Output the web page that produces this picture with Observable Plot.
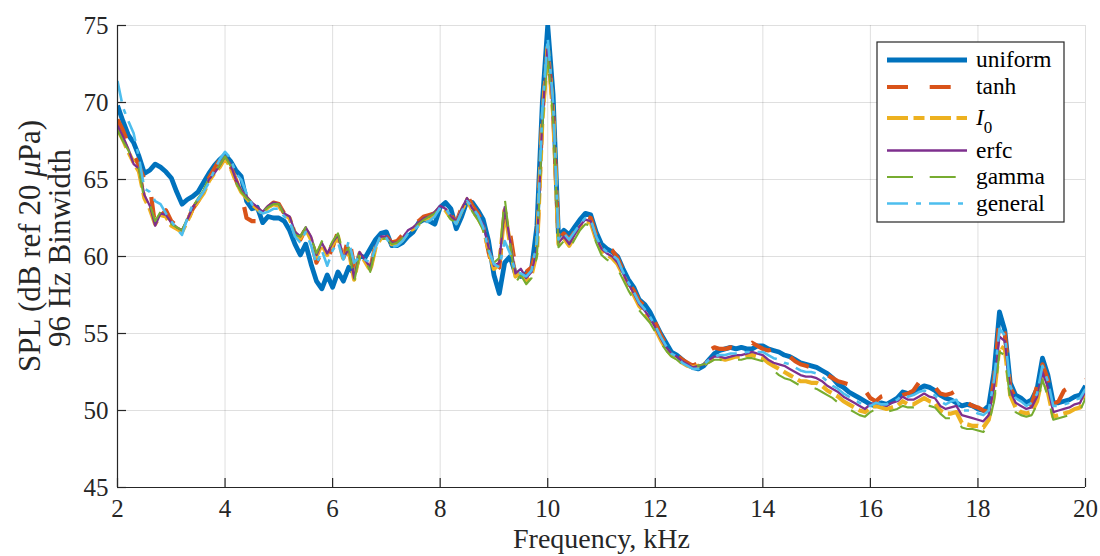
<!DOCTYPE html>
<html>
<head>
<meta charset="utf-8">
<script src="https://cdn.jsdelivr.net/npm/d3@7"></script>
<script src="https://cdn.jsdelivr.net/npm/@observablehq/plot@0.6"></script>
<style>
  html, body { margin: 0; padding: 0; background: #fff; }
  #chart { width: 1100px; height: 556px; }
</style>
</head>
<body>
<div id="chart"></div>
<script>
// Frequency bins (kHz)
const freq = [2.0,2.1,2.2,2.3,2.4,2.5,2.6,2.7,2.8,2.9,3.0,3.1,3.2,3.3,3.4,3.5,3.6,3.7,3.8,3.9,4.0,4.1,4.2,4.3,4.4,4.5,4.6,4.7,4.8,4.9,5.0,5.1,5.2,5.3,5.4,5.5,5.6,5.7,5.8,5.9,6.0,6.1,6.2,6.3,6.4,6.5,6.6,6.7,6.8,6.9,7.0,7.1,7.2,7.3,7.4,7.5,7.6,7.7,7.8,7.9,8.0,8.1,8.2,8.3,8.4,8.5,8.6,8.7,8.8,8.9,9.0,9.1,9.2,9.3,9.4,9.5,9.6,9.7,9.8,9.9,10.0,10.1,10.2,10.3,10.4,10.5,10.6,10.7,10.8,10.9,11.0,11.1,11.2,11.3,11.4,11.5,11.6,11.7,11.8,11.9,12.0,12.1,12.2,12.3,12.4,12.5,12.6,12.7,12.8,12.9,13.0,13.1,13.2,13.3,13.4,13.5,13.6,13.7,13.8,13.9,14.0,14.1,14.2,14.3,14.4,14.5,14.6,14.7,14.8,14.9,15.0,15.1,15.2,15.3,15.4,15.5,15.6,15.7,15.8,15.9,16.0,16.1,16.2,16.3,16.4,16.5,16.6,16.7,16.8,16.9,17.0,17.1,17.2,17.3,17.4,17.5,17.6,17.7,17.8,17.9,18.0,18.1,18.2,18.3,18.4,18.5,18.6,18.7,18.8,18.9,19.0,19.1,19.2,19.3,19.4,19.5,19.6,19.7,19.8,19.9,20.0];

const uniform = [69.8,68.8,67.9,67.4,66.5,65.4,65.6,66.0,65.8,65.5,65.1,64.2,63.4,63.7,63.9,64.2,64.8,65.4,65.9,66.3,66.6,66.2,65.6,65.2,63.6,63.1,63.2,62.2,62.6,62.5,62.5,62.3,61.7,60.8,60.1,60.8,59.5,58.4,57.9,58.8,58.0,59.0,58.4,59.3,58.9,60.1,59.9,60.5,61.1,61.5,61.6,60.7,60.7,60.9,61.3,61.6,62.2,62.4,62.3,62.1,63.2,63.5,63.1,61.8,62.6,63.6,63.5,63.0,62.4,61.0,58.8,57.6,59.6,60.0,58.9,58.7,58.9,59.2,62.0,70.0,75.0,70.5,61.3,61.7,61.4,61.9,62.4,62.8,62.7,61.6,60.8,60.5,60.3,60.0,59.2,58.5,58.0,57.2,56.9,56.4,55.7,55.0,54.4,53.8,53.6,53.3,53.0,52.8,52.7,52.9,53.3,53.7,53.9,54.0,54.1,54.0,54.1,54.0,54.0,54.2,54.2,54.0,53.9,53.8,53.6,53.5,53.3,53.1,53.0,52.9,52.8,52.6,52.4,52.1,51.7,51.5,51.2,51.0,50.8,50.6,50.4,50.3,50.5,50.4,50.6,50.8,51.2,51.1,51.2,51.4,51.6,51.5,51.3,51.0,50.8,50.7,50.5,50.3,50.4,50.3,50.1,50.0,50.3,52.5,56.4,55.2,51.8,51.0,50.8,50.5,50.7,51.4,53.4,52.3,50.5,50.5,50.6,50.7,50.9,51.0,51.6];

const tanh = [68.9,68.2,67.3,66.6,65.9,65.0,64.6,62.0,62.6,63.0,62.3,62.0,61.9,62.3,63.1,63.6,64.2,65.1,65.7,66.3,66.6,65.9,65.0,64.1,62.5,62.3,62.3,62.6,63.2,63.5,63.4,62.8,62.5,61.5,61.1,61.8,61.0,59.6,60.3,59.8,60.6,61.6,59.9,61.3,59.4,60.0,59.6,59.2,60.8,61.4,61.3,60.9,61.0,61.4,61.9,62.1,62.3,62.6,62.7,62.8,63.2,63.1,62.7,62.2,63.2,64.0,63.3,62.8,62.2,60.3,58.9,59.3,63.0,61.5,59.3,59.2,59.0,59.3,60.6,69.2,73.6,69.6,61.1,61.5,61.1,61.6,62.2,62.6,62.5,61.4,60.8,60.6,60.4,59.9,59.1,58.3,57.8,57.1,56.8,56.4,55.7,54.9,54.3,53.8,53.6,53.3,53.1,52.9,53.1,53.6,53.9,54.1,54.0,54.0,54.1,54.0,54.0,54.2,54.4,54.2,54.0,53.9,54.0,53.9,53.7,53.5,53.2,53.0,52.9,52.8,52.6,52.5,52.3,52.1,51.9,51.8,51.7,51.6,51.4,51.3,50.8,50.6,50.9,51.0,50.9,50.8,51.0,51.1,51.3,51.8,52.0,51.9,51.5,51.1,51.0,51.1,51.3,51.1,50.5,50.3,50.2,50.0,49.9,52.0,55.9,55.0,51.5,50.8,50.5,50.2,50.4,51.6,53.0,52.0,50.4,50.6,51.3,51.5,51.6,51.8,52.0];

const i0 = [68.3,67.6,66.8,66.1,65.5,63.8,63.1,62.1,62.7,62.6,62.0,61.8,61.6,62.3,63.1,63.6,64.1,64.9,65.4,65.8,66.4,65.8,64.9,64.2,63.8,63.4,63.1,62.8,63.2,63.4,63.3,62.7,62.5,61.5,61.2,61.8,61.1,60.0,60.8,60.1,60.8,61.3,59.8,60.4,58.5,60.2,59.7,59.1,60.6,61.2,61.2,60.8,60.8,61.1,61.6,61.8,62.1,62.4,62.5,62.8,63.2,63.0,62.5,62.2,63.0,63.7,63.0,62.5,61.9,60.4,59.2,59.5,63.0,60.8,58.7,59.0,58.4,58.8,60.3,68.8,73.6,69.3,60.8,61.2,60.7,61.3,61.9,62.3,62.2,61.1,60.4,60.1,59.9,59.5,58.8,58.1,57.5,56.8,56.4,55.9,55.3,54.6,54.0,53.6,53.4,53.1,52.9,52.8,52.9,53.0,53.2,53.4,53.4,53.3,53.4,53.5,53.5,53.6,53.6,53.5,53.4,53.1,52.9,52.7,52.5,52.3,52.1,51.9,51.9,51.8,51.8,51.6,51.3,51.1,50.9,50.6,50.4,50.2,50.0,49.9,50.2,50.3,50.2,50.1,50.2,50.3,50.6,50.4,50.4,50.6,50.8,50.6,50.5,50.0,49.8,49.8,49.9,49.2,49.1,49.0,49.0,48.9,49.4,51.0,54.2,54.0,51.0,50.2,49.9,49.8,49.9,50.6,52.2,51.2,49.6,49.7,49.8,49.9,50.1,50.2,51.0];

const erfc = [68.5,67.8,67.0,66.0,65.7,64.0,63.3,62.0,62.8,62.7,62.2,61.9,61.7,62.4,63.2,63.7,64.2,65.0,65.4,65.9,66.5,66.0,65.0,64.3,63.9,63.5,63.2,62.9,63.3,63.5,63.4,62.8,62.6,61.6,61.3,61.9,61.3,60.1,60.9,60.2,60.9,61.4,59.9,60.5,58.6,60.3,59.8,59.3,60.7,61.3,61.3,60.9,60.9,61.2,61.7,61.9,62.2,62.5,62.6,62.9,63.3,63.1,62.6,62.3,63.1,63.8,63.1,62.6,62.1,60.6,59.4,59.6,63.2,61.0,58.9,59.2,58.6,59.0,60.5,69.0,73.8,69.5,60.9,61.3,60.8,61.4,62.0,62.4,62.3,61.2,60.5,60.2,60.0,59.6,58.9,58.2,57.6,56.9,56.5,56.0,55.4,54.7,54.1,53.7,53.5,53.2,53.0,52.8,52.9,53.0,53.3,53.5,53.5,53.4,53.5,53.6,53.6,53.7,53.8,53.7,53.6,53.3,53.1,53.0,52.9,52.7,52.5,52.3,52.2,52.2,52.1,51.9,51.6,51.4,51.2,50.9,50.7,50.5,50.3,50.1,50.4,50.5,50.4,50.3,50.5,50.6,50.9,50.7,50.7,50.9,51.1,50.9,50.8,50.3,50.1,50.2,50.3,49.7,49.6,49.5,49.4,49.3,49.7,51.5,54.8,54.5,51.3,50.5,50.3,50.1,50.2,50.9,52.5,51.5,49.9,50.0,50.1,50.2,50.4,50.5,51.3];

const gamma = [68.2,67.5,66.9,66.2,65.7,63.6,63.4,62.3,62.9,62.8,62.1,61.9,61.7,62.5,63.2,63.8,64.3,65.1,65.5,65.9,66.5,65.9,64.8,64.2,63.8,63.5,63.2,62.9,63.2,63.4,63.4,62.7,62.5,61.4,61.3,61.9,61.2,60.2,61.0,60.3,61.0,61.5,60.1,60.6,58.3,60.2,59.9,59.0,60.6,61.1,61.2,60.8,60.9,61.2,61.6,61.8,62.1,62.4,62.6,62.8,63.2,62.9,62.4,62.2,62.9,63.5,62.9,62.4,61.7,60.3,59.6,59.9,63.8,60.9,58.3,58.8,58.2,58.6,60.0,68.5,73.2,69.0,60.6,61.0,60.5,61.1,61.7,62.1,62.0,60.9,60.1,59.8,59.6,59.2,58.5,57.8,57.2,56.5,56.1,55.7,55.1,54.4,53.9,53.5,53.3,53.0,52.9,52.8,52.9,53.0,53.1,53.3,53.3,53.2,53.2,53.3,53.3,53.4,53.4,53.3,53.2,52.9,52.6,52.3,52.1,52.0,51.8,51.6,51.5,51.5,51.4,51.2,51.0,50.8,50.5,50.3,50.1,49.9,49.7,49.6,49.9,50.1,50.0,49.9,50.0,50.1,50.3,50.2,50.2,50.3,50.5,50.3,50.2,49.8,49.5,49.5,49.6,48.9,48.8,48.8,48.7,48.6,49.1,50.6,53.8,53.6,50.7,49.9,49.7,49.6,49.7,50.4,52.0,50.9,49.4,49.5,49.6,49.7,49.9,50.0,50.8];

const general = [71.4,69.7,68.8,68.0,66.4,64.4,64.2,63.6,63.4,62.8,62.3,61.8,61.4,62.5,63.4,63.7,64.2,64.8,65.6,66.3,66.8,66.4,65.4,65.0,64.1,63.4,63.0,62.8,62.9,63.1,63.1,62.6,62.3,61.3,60.9,61.6,60.7,59.5,60.4,59.4,60.4,60.9,59.8,61.0,59.6,60.0,59.8,59.6,60.6,61.4,61.2,60.6,60.7,61.0,61.5,61.7,62.0,62.2,62.3,62.6,63.2,63.1,62.6,62.1,62.9,63.6,63.2,62.7,61.9,60.4,59.5,59.3,61.0,60.2,59.0,58.9,58.7,59.1,61.0,69.5,74.2,70.0,61.1,61.5,61.1,61.6,62.1,62.5,62.4,61.3,60.6,60.3,60.1,59.8,59.0,58.3,57.7,57.0,56.6,56.1,55.5,54.8,54.2,53.7,53.5,53.1,52.9,52.7,52.7,53.0,53.3,53.5,53.6,53.6,53.7,53.7,53.7,53.8,53.8,53.8,53.8,53.6,53.4,53.3,53.1,53.0,52.8,52.6,52.5,52.5,52.4,52.2,51.9,51.6,51.4,51.1,50.9,50.7,50.5,50.3,50.3,50.5,50.4,50.4,50.6,50.7,51.0,50.9,51.0,51.2,51.3,51.2,51.0,50.6,50.4,50.6,50.7,50.0,50.0,50.0,49.8,49.7,50.0,52.0,55.3,54.9,51.6,50.8,50.6,50.3,50.5,51.1,52.9,51.9,50.3,50.3,50.4,50.5,50.7,50.8,51.4];

const seriesNames = ["uniform", "tanh", "I0", "erfc", "gamma", "general"];
const seriesValues = [uniform, tanh, i0, erfc, gamma, general];
const seriesColors = ["#0072BD", "#D95319", "#EDB120", "#7E2F8E", "#77AC30", "#4DBEEE"];
const seriesWidths = [4.8, 4.2, 4.2, 2.3, 2.1, 2.6];
const seriesDash = [null, "21,21.7", "21,5.5,11,5.5", null, "26,16.7", "21,8,5,8"];

const xTicks = [2, 4, 6, 8, 10, 12, 14, 16, 18, 20];
const yTicks = [45, 50, 55, 60, 65, 70, 75];

const axisColor = "#262626";
const font = "Liberation Serif, Times New Roman, serif";

const lineMarks = seriesValues.map((vals, k) =>
  Plot.line(freq.map((f, i) => ({f, v: vals[i]})), {
    x: "f", y: "v",
    stroke: seriesColors[k],
    strokeWidth: seriesWidths[k],
    strokeDasharray: seriesDash[k] || undefined,
    strokeLinejoin: "round",
    strokeLinecap: "butt",
    clip: true
  })
);

const svg = Plot.plot({
  width: 1100,
  height: 556,
  marginLeft: 117,
  marginRight: 15,
  marginTop: 25,
  marginBottom: 69,
  style: {fontFamily: font, fontSize: "25px", color: axisColor, background: "white", overflow: "visible"},
  x: {domain: [2, 20], label: null},
  y: {domain: [45, 75], label: null},
  marks: [
    Plot.gridX(xTicks, {stroke: axisColor, strokeOpacity: 0.15, strokeWidth: 1}),
    Plot.gridY(yTicks, {stroke: axisColor, strokeOpacity: 0.15, strokeWidth: 1}),
    ...lineMarks,
    Plot.ruleX([2], {stroke: axisColor, strokeWidth: 1.2}),
    Plot.ruleY([45], {stroke: axisColor, strokeWidth: 1.2}),
    Plot.ruleX(xTicks, {y1: 45, y2: 45, insetTop: -9, stroke: axisColor, strokeWidth: 1.2}),
    Plot.ruleY(yTicks, {x1: 2, x2: 2, insetRight: -9, stroke: axisColor, strokeWidth: 1.2}),
    Plot.axisX(xTicks, {tickSize: 0, tickPadding: 12, fontSize: 25, label: null, fill: axisColor}),
    Plot.axisY(yTicks, {tickSize: 0, tickPadding: 9, fontSize: 25, label: null, fill: axisColor}),
    Plot.text(["Frequency, kHz"], {frameAnchor: "bottom", dy: 52, lineAnchor: "middle", text: d => d, fontSize: 28, fill: axisColor})
  ]
});
document.getElementById("chart").appendChild(svg);

// Y-axis label (two lines, rotated)
const s = d3.select(svg);
const yl = s.append("g").attr("font-family", font).attr("font-size", 31).attr("fill", axisColor).attr("text-anchor", "middle");
const t1 = yl.append("text").attr("transform", "translate(40,246) rotate(-90)");
t1.append("tspan").text("SPL (dB ref 20 ");
t1.append("tspan").attr("font-style", "italic").text("μ");
t1.append("tspan").text("Pa)");
yl.append("text").attr("transform", "translate(70,248) rotate(-90)").text("96 Hz Binwidth");

// Legend
const lg = s.append("g").attr("font-family", font).attr("font-size", 23.4).attr("fill", "#000").attr("text-anchor", "start");
lg.append("rect").attr("x", 877).attr("y", 42).attr("width", 187).attr("height", 180)
  .attr("fill", "white").attr("stroke", "#262626").attr("stroke-width", 1.2);
const ly = [60, 87, 118, 150.5, 177, 203.5];
seriesNames.forEach((name, k) => {
  lg.append("line").attr("x1", 887).attr("x2", 967).attr("y1", ly[k]).attr("y2", ly[k])
    .attr("stroke", seriesColors[k]).attr("stroke-width", seriesWidths[k])
    .attr("stroke-dasharray", seriesDash[k] || null);
  const tx = lg.append("text").attr("x", 976).attr("y", ly[k] + 7).attr("text-anchor", "start");
  if (name === "I0") {
    tx.append("tspan").attr("font-style", "italic").text("I");
    tx.append("tspan").attr("font-size", 17).attr("dy", 8).text("0");
  } else {
    tx.text(name);
  }
});
</script>
</body>
</html>
